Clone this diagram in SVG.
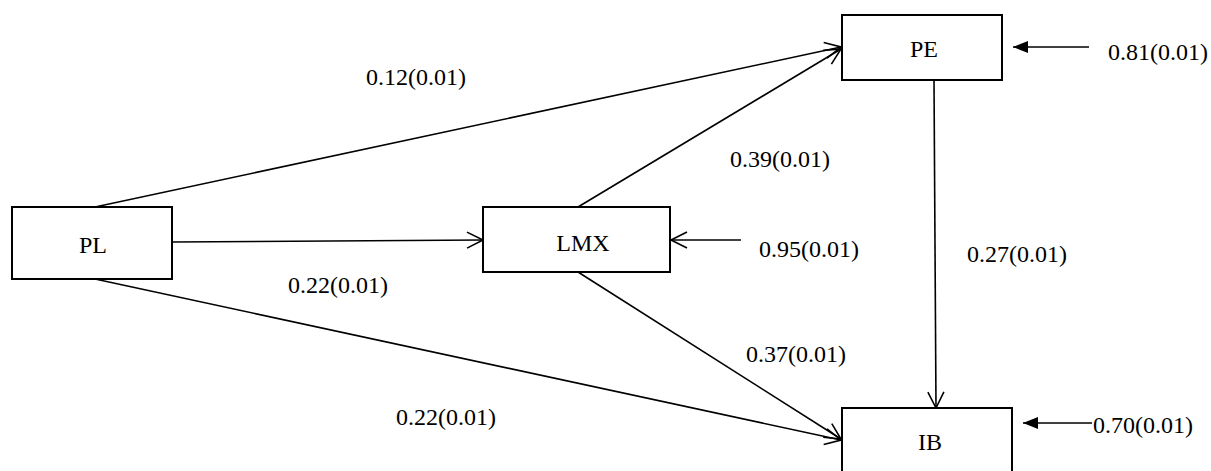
<svg xmlns="http://www.w3.org/2000/svg" width="1211" height="471" viewBox="0 0 1211 471">
<style>
.box{fill:#fff;stroke:#000;stroke-width:2}
.lbl{font-size:24px;fill:#000;text-anchor:middle}
.coef{font-size:24px;fill:#000}
.ln{stroke:#000;stroke-width:1.6;fill:none}
.open{marker-end:url(#openArrow)}
.fill{marker-end:url(#filledArrow)}
</style>
<defs>
<marker id="openArrow" markerUnits="userSpaceOnUse" markerWidth="22" markerHeight="22" viewBox="-19 -11 22 22" refX="0" refY="0" orient="auto" overflow="visible">
<path d="M-16,-8 L0,0 L-16,8" fill="none" stroke="#000" stroke-width="1.6"/>
</marker>
<marker id="filledArrow" markerUnits="userSpaceOnUse" markerWidth="22" markerHeight="22" viewBox="-19 -11 22 22" refX="0" refY="0" orient="auto" overflow="visible">
<path d="M-15,-6 L0,0 L-15,6 Z" fill="#000" stroke="none"/>
</marker>
</defs>
<rect width="1211" height="471" fill="#fff"/>
<g id="connectors">
<line class="ln open" x1="95" y1="207" x2="841" y2="47"/>
<line class="ln open" x1="578" y1="207" x2="841" y2="49"/>
<line class="ln open" x1="172" y1="242" x2="483" y2="240"/>
<line class="ln open" x1="95" y1="279" x2="841" y2="440"/>
<line class="ln open" x1="578" y1="272" x2="841" y2="439"/>
<line class="ln open" x1="934" y1="80" x2="936" y2="408"/>
<line class="ln fill" x1="1089" y1="47" x2="1013" y2="47"/>
<line class="ln open" x1="741" y1="240" x2="671" y2="240"/>
<line class="ln fill" x1="1092" y1="423" x2="1023" y2="423"/>
</g>
<g font-family="'Liberation Serif', 'Times New Roman', serif">
<g id="node-PL">
<rect class="box" x="12" y="207" width="160" height="72"/>
<text class="lbl" x="93" y="253">PL</text>
</g>
<g id="node-LMX">
<rect class="box" x="483" y="207" width="187" height="65"/>
<text class="lbl" x="583" y="251">LMX</text>
</g>
<g id="node-PE">
<rect class="box" x="842" y="15" width="160" height="65"/>
<text class="lbl" x="924" y="57">PE</text>
</g>
<g id="node-IB">
<rect class="box" x="842" y="408" width="170" height="80"/>
<text class="lbl" x="930" y="450">IB</text>
</g>
<g id="labels">
<text class="coef" x="366" y="85">0.12(0.01)</text>
<text class="coef" x="730" y="167">0.39(0.01)</text>
<text class="coef" x="967" y="262">0.27(0.01)</text>
<text class="coef" x="288" y="293">0.22(0.01)</text>
<text class="coef" x="746" y="362">0.37(0.01)</text>
<text class="coef" x="396" y="425">0.22(0.01)</text>
<text class="coef" x="1108" y="60">0.81(0.01)</text>
<text class="coef" x="759" y="257">0.95(0.01)</text>
<text class="coef" x="1093" y="433">0.70(0.01)</text>
</g>
</g>
</svg>
